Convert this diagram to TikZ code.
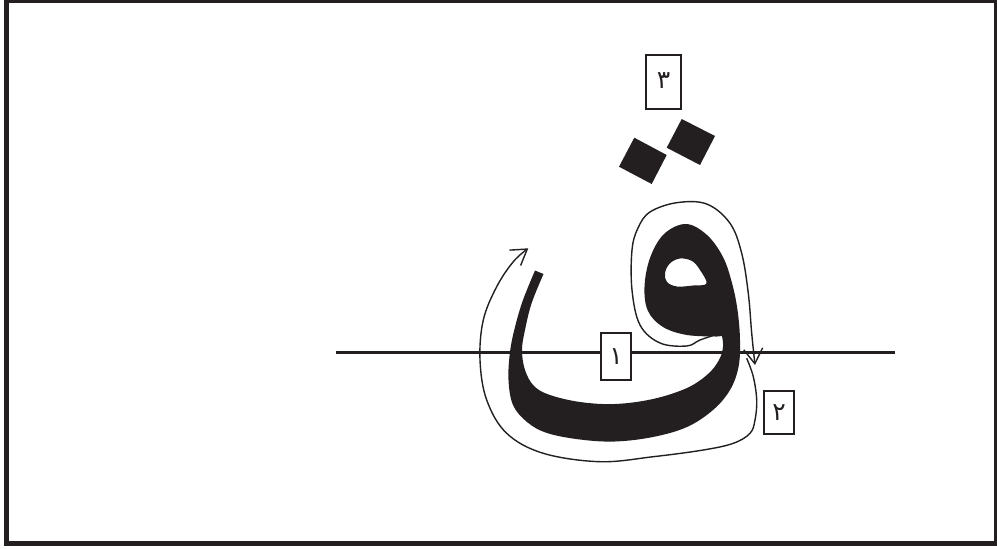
\documentclass[tikz,border=0pt]{standalone}
\usepackage{fontspec}
\usetikzlibrary{arrows.meta}
\newfontfamily\arabicfont[Script=Arabic]{DejaVu Sans}
\TeXXeTstate=1
\definecolor{ink}{RGB}{35,31,32}
\begin{document}
\begin{tikzpicture}[x=1pt,y=-1pt,
  numbox/.style={draw=ink, line width=1.5pt, fill=white, inner sep=0pt,
    text=ink, font=\arabicfont\fontsize{25}{25}\selectfont},
  guide/.style={draw=ink, line width=1.4pt},
  barb/.style={-{Straight Barb[length=15pt,width=19pt,line width=1.4pt]}},
  baseln/.style={draw=ink, line width=2.5pt},
  frame/.style={draw=ink, line width=5pt}]
\useasboundingbox (0,0) rectangle (997,549);
% frame
\draw[frame] (6.5,0) rectangle (996.5,543.2);
% baseline
\coordinate (bl) at (336,352.5);
\coordinate (br) at (895,352.5);
\draw[baseln] (bl) -- (br);
% letter body with hole
\fill[ink, even odd rule] (535,270.5) -- plot[smooth, tension=0.6] coordinates {(535,270.5) (523,300) (515,327) (510,352) (508.5,380) (513,405) (527,422) (547,433) (580,439.5) (615,441.5) (653,437) (687,427) (713,410) (730,390) (738.5,367) (740,340) (737.5,310) (732,283) (723,257) (707,235) (686,224) (664,234) (650,258) (644.5,287) (648,311) (663,327) (687,335) (717,336.5)}
 -- (722,336) -- plot[smooth, tension=0.6] coordinates {(722,336) (723,347) (719,360) (708,374) (687,388) (653,399) (615,404) (580,402) (550,395) (534,386) (525,370) (522,350) (525,330) (531.7,303) (543.5,274)} -- cycle
 plot[smooth cycle, tension=0.6] coordinates {(665,273) (670,263.3) (680,258.5) (692,261) (700,270) (706.5,283.5) (693,285.5) (677,286.5) (667,282)};
% dots
\fill[ink] (634.3,137.7) -- (666.7,155) -- (651.7,184) -- (619,166.7) -- cycle;
\fill[ink] (681.7,119) -- (715,136) -- (700,165) -- (666.7,147.7) -- cycle;
% guide A
\coordinate (a0) at (746.7,358.3);
\coordinate (a1) at (528.3,248.3);
\draw[guide, barb] plot[smooth, tension=0.6] coordinates {(746.7,358.3) (753.3,376.7) (756.7,400) (755,420) (750,433.3) (733.3,443.3) (703.3,450) (653.3,456.7) (600,461.7) (543.3,453.3) (506.7,433.3) (486.7,400) (480,360) (483.3,320) (496.7,286.7) (513.3,261.7) (528.3,248.3)};
% guide B
\coordinate (b0) at (718,334);
\coordinate (b1) at (755,365);
\draw[guide, barb] plot[smooth, tension=0.6] coordinates {(718,334) (700,340) (686.7,346) (660,343) (640,325) (632,290) (632,250) (638,228) (650,212) (676.7,202.7) (706.7,204) (730,223.3) (741.7,253.3) (748.3,293.3) (751.7,333.3) (755,365)};
% number boxes
\node[numbox, minimum width=30pt, minimum height=47pt] (n1) at (616,356.5) {\raisebox{-4pt}{\beginR ١\endR}};
\node[numbox, minimum width=30pt, minimum height=43pt] (n2) at (779,412.5) {\raisebox{-1pt}{\beginR ٢\endR}};
\node[numbox, minimum width=35pt, minimum height=54pt] (n3) at (663.5,82) {\raisebox{2pt}{\beginR ٣\endR}};
\end{tikzpicture}
\end{document}
